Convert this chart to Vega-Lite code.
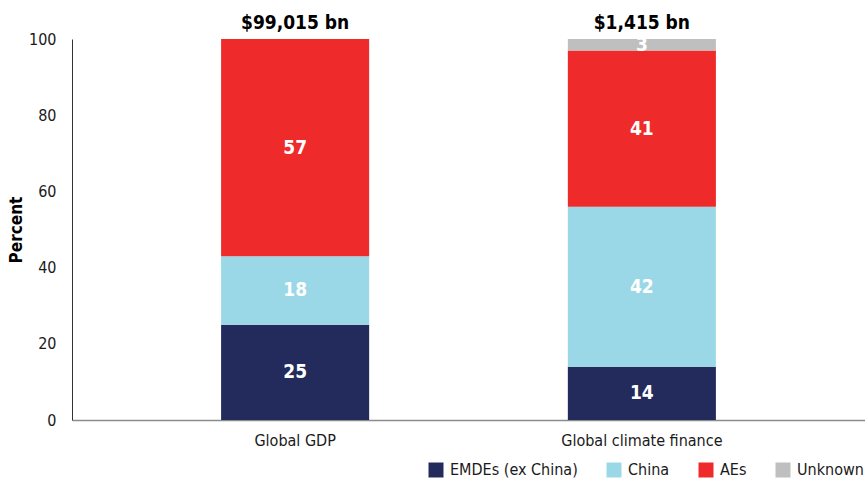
{
  "$schema": "https://vega.github.io/schema/vega-lite/v6.json",
  "width": 793,
  "height": 381,
  "autosize": {"type": "none"},
  "padding": {"left": 72, "top": 39, "right": 0, "bottom": 67},
  "config": {
    "font": "DejaVu Sans Condensed, Roboto, sans-serif",
    "view": {"stroke": null},
    "axis": {"labelFont": "DejaVu Sans Condensed, Roboto, sans-serif", "titleFont": "DejaVu Sans Condensed, Roboto, sans-serif"},
    "legend": {"labelFont": "DejaVu Sans Condensed, Roboto, sans-serif"}
  },
  "datasets": {
    "shares": [
      {"cat": "Global GDP", "group": "EMDEs (ex China)", "rank": 1, "v": 25},
      {"cat": "Global GDP", "group": "China", "rank": 2, "v": 18},
      {"cat": "Global GDP", "group": "AEs", "rank": 3, "v": 57},
      {"cat": "Global GDP", "group": "Unknown", "rank": 4, "v": 0},
      {"cat": "Global climate finance", "group": "EMDEs (ex China)", "rank": 1, "v": 14},
      {"cat": "Global climate finance", "group": "China", "rank": 2, "v": 42},
      {"cat": "Global climate finance", "group": "AEs", "rank": 3, "v": 41},
      {"cat": "Global climate finance", "group": "Unknown", "rank": 4, "v": 3}
    ],
    "totals": [
      {"cat": "Global GDP", "total": 100, "label": "$99,015 bn"},
      {"cat": "Global climate finance", "total": 100, "label": "$1,415 bn"}
    ]
  },
  "encoding": {
    "x": {
      "field": "cat",
      "type": "nominal",
      "sort": ["Global GDP", "Global climate finance"],
      "scale": {"paddingInner": 0.573, "paddingOuter": 0.43},
      "axis": {
        "title": null,
        "labelAngle": 0,
        "labelFontSize": 16,
        "labelColor": "#1a1a1a",
        "labelPadding": 12,
        "ticks": false,
        "domainColor": "#8c8c8c",
        "domainWidth": 1.5
      }
    }
  },
  "layer": [
    {
      "data": {"name": "shares"},
      "mark": {"type": "bar"},
      "encoding": {
        "y": {
          "field": "v",
          "type": "quantitative",
          "stack": "zero",
          "scale": {"domain": [0, 100]},
          "axis": {
            "title": "Percent",
            "titleFontSize": 17,
            "titleFontWeight": "bold",
            "titleColor": "#000000",
            "titlePadding": 3,
            "values": [0, 20, 40, 60, 80, 100],
            "labelFontSize": 16,
            "labelColor": "#1a1a1a",
            "labelPadding": 16,
            "ticks": false,
            "grid": false,
            "domainColor": "#333333"
          }
        },
        "color": {
          "field": "group",
          "type": "nominal",
          "scale": {
            "domain": ["EMDEs (ex China)", "China", "AEs", "Unknown"],
            "range": ["#232a5c", "#9ad8e8", "#ee2a2a", "#bfbfbf"]
          },
          "legend": {
            "title": null,
            "orient": "none",
            "direction": "horizontal",
            "legendX": 356,
            "legendY": 423,
            "symbolType": "square",
            "symbolSize": 225,
            "symbolStrokeWidth": 0,
            "symbolOpacity": 1,
            "labelFontSize": 16,
            "labelColor": "#1a1a1a",
            "labelOffset": 6,
            "columnPadding": 28
          }
        },
        "order": {"field": "rank", "type": "quantitative"}
      }
    },
    {
      "data": {"name": "shares"},
      "transform": [{"filter": "datum.v > 0"}],
      "mark": {"type": "text", "color": "white", "fontSize": 19, "fontWeight": "bold", "baseline": "middle"},
      "encoding": {
        "y": {"field": "v", "type": "quantitative", "stack": "zero", "bandPosition": 0.5},
        "detail": {"field": "group"},
        "order": {"field": "rank", "type": "quantitative"},
        "text": {"field": "v", "type": "quantitative"}
      }
    },
    {
      "data": {"name": "totals"},
      "mark": {"type": "text", "color": "black", "fontSize": 19, "fontWeight": "bold", "baseline": "bottom", "dy": -6},
      "encoding": {
        "y": {"field": "total", "type": "quantitative"},
        "text": {"field": "label"}
      }
    }
  ]
}
